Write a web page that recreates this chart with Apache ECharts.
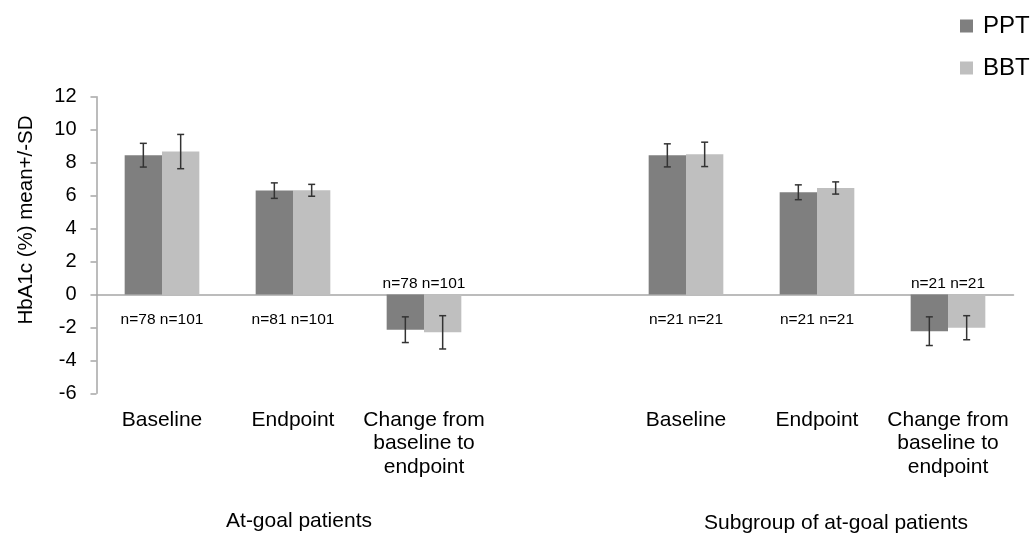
<!DOCTYPE html>
<html>
<head>
<meta charset="utf-8">
<script src="https://cdn.jsdelivr.net/npm/echarts@6/dist/echarts.min.js"></script>
<style>
html,body{margin:0;padding:0;background:#fff;}
#chart{width:1035px;height:534px;}
</style>
</head>
<body>
<div id="chart"></div>
<script>
const categories = ['Baseline', 'Endpoint', 'Change from\nbaseline to\nendpoint', '', 'Baseline', 'Endpoint', 'Change from\nbaseline to\nendpoint'];
const pptMean = [8.45, 6.30, -2.14, null, 8.44, 6.20, -2.23];
const pptSD   = [0.72, 0.47, 0.78, null, 0.70, 0.45, 0.87];
const bbtMean = [8.67, 6.32, -2.30, null, 8.50, 6.46, -2.02];
const bbtSD   = [1.04, 0.36, 1.01, null, 0.74, 0.37, 0.73];
const nLabels = ['n=78 n=101', 'n=81 n=101', 'n=78 n=101', '', 'n=21 n=21', 'n=21 n=21', 'n=21 n=21'];
const groupLabels = ['At-goal patients', 'Subgroup of at-goal patients'];
const yTicks = { min: -6, max: 12, interval: 2 };

const FONT = '"Liberation Sans", Arial, sans-serif';
const PPT_COLOR = '#7f7f7f';
const BBT_COLOR = '#bfbfbf';
const BAR_FRAC = 0.57; // fraction of category occupied by the pair of bars

function errData(means, sds) {
  const out = [];
  means.forEach((m, i) => { if (m !== null) out.push([i, m, sds[i]]); });
  return out;
}

function errRender(side) {
  return function (params, api) {
    const i = api.value(0), m = api.value(1), sd = api.value(2);
    const hi = api.coord([i, m + sd]);
    const lo = api.coord([i, m - sd]);
    const cw = api.size([1, 0])[0];
    const x = hi[0] + side * cw * BAR_FRAC / 4;
    const cap = 3.5;
    const st = { stroke: '#333', lineWidth: 1.5 };
    return {
      type: 'group',
      children: [
        { type: 'line', shape: { x1: x, y1: hi[1], x2: x, y2: lo[1] }, style: st },
        { type: 'line', shape: { x1: x - cap, y1: hi[1], x2: x + cap, y2: hi[1] }, style: st },
        { type: 'line', shape: { x1: x - cap, y1: lo[1], x2: x + cap, y2: lo[1] }, style: st }
      ]
    };
  };
}

const nData = [];
nLabels.forEach((t, i) => { if (t) nData.push([i, pptMean[i]]); });

const chart = echarts.init(document.getElementById('chart'), null, { renderer: 'canvas' });
chart.setOption({
  animation: false,
  backgroundColor: '#fff',
  textStyle: { fontFamily: FONT },
  grid: { left: 96.5, right: 21.5, top: 96.7, bottom: 140.7 },
  legend: {
    data: ['PPT', 'BBT'],
    orient: 'vertical',
    left: 955,
    top: 9,
    itemWidth: 13,
    itemHeight: 13,
    itemGap: 18,
    icon: 'rect',
    textStyle: { fontSize: 24, color: '#000', fontFamily: FONT, padding: [0, 0, 0, 5] }
  },
  graphic: [
    {
      type: 'text', x: 26, y: 220, rotation: Math.PI / 2,
      style: { text: 'HbA1c (%) mean+/-SD', fontSize: 20.5, fontFamily: FONT, fill: '#000', align: 'center', verticalAlign: 'middle' }
    },
    {
      type: 'text', x: 299, y: 521,
      style: { text: groupLabels[0], fontSize: 21, fontFamily: FONT, fill: '#000', align: 'center', verticalAlign: 'middle' }
    },
    {
      type: 'text', x: 836, y: 523,
      style: { text: groupLabels[1], fontSize: 21, fontFamily: FONT, fill: '#000', align: 'center', verticalAlign: 'middle' }
    }
  ],
  xAxis: [
    {
      type: 'category',
      data: categories,
      axisLine: { onZero: true, lineStyle: { color: '#a6a6a6', width: 1.5 } },
      axisTick: { show: false },
      axisLabel: { show: false },
      splitLine: { show: false }
    },
    {
      type: 'category',
      data: categories,
      position: 'bottom',
      axisLine: { show: false },
      axisTick: { show: false },
      axisLabel: { show: true, interval: 0, margin: 15, fontSize: 21, lineHeight: 23.5, color: '#000', fontFamily: FONT, align: 'center' },
      splitLine: { show: false }
    }
  ],
  yAxis: {
    type: 'value',
    min: yTicks.min,
    max: yTicks.max,
    interval: yTicks.interval,
    axisLine: { show: true, lineStyle: { color: '#a6a6a6', width: 1.5 } },
    axisTick: { show: true, inside: false, length: 6, lineStyle: { color: '#a6a6a6', width: 1.5 } },
    axisLabel: { fontSize: 20, color: '#000', margin: 20, fontFamily: FONT },
    splitLine: { show: false }
  },
  series: [
    {
      name: 'PPT', type: 'bar', xAxisIndex: 0, data: pptMean,
      barGap: '0%', barCategoryGap: ((1 - BAR_FRAC) * 100) + '%',
      itemStyle: { color: PPT_COLOR }
    },
    {
      name: 'BBT', type: 'bar', xAxisIndex: 0, data: bbtMean,
      barGap: '0%', barCategoryGap: ((1 - BAR_FRAC) * 100) + '%',
      itemStyle: { color: BBT_COLOR }
    },
    {
      type: 'custom', xAxisIndex: 0, data: errData(pptMean, pptSD),
      renderItem: errRender(-1), z: 10, silent: true
    },
    {
      type: 'custom', xAxisIndex: 0, data: errData(bbtMean, bbtSD),
      renderItem: errRender(1), z: 10, silent: true
    },
    {
      type: 'custom', xAxisIndex: 0, data: nData, z: 11, silent: true,
      renderItem: function (params, api) {
        const i = api.value(0), m = api.value(1);
        const p = api.coord([i, 0]);
        const dy = m >= 0 ? 25 : -11;
        return {
          type: 'text',
          x: p[0], y: p[1] + dy,
          style: { text: nLabels[i], fontSize: 15.5, fontFamily: FONT, fill: '#000', align: 'center', verticalAlign: 'middle' }
        };
      }
    }
  ]
});
</script>
</body>
</html>
